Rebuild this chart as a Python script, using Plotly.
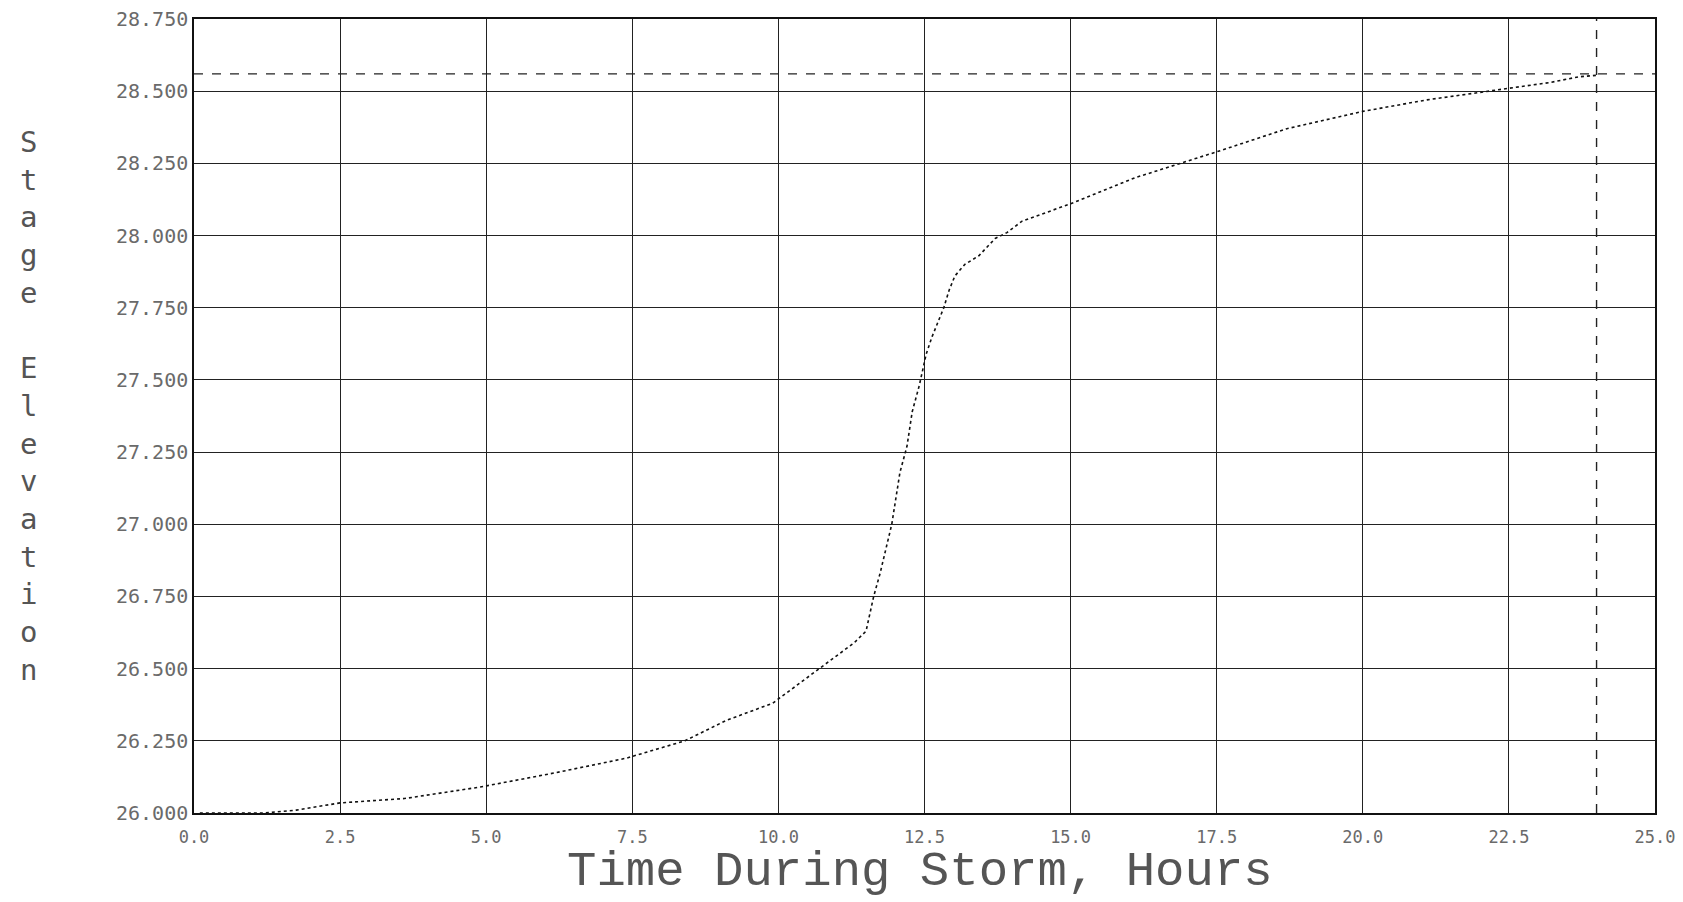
import plotly.graph_objects as go

# ---- data ----
time_h = [0.1, 1.2, 1.75, 2.5, 3.6, 4.9, 6.2, 7.4, 8.4, 9.1, 9.9, 10.7, 10.9, 11.3,
          11.5, 11.63, 11.74, 11.94, 12.08, 12.2, 12.29, 12.41, 12.53, 12.63, 12.75,
          12.83, 12.92, 13.02, 13.19, 13.43, 13.71, 13.91, 14.17, 15.0, 16.1, 16.9,
          17.5, 18.7, 20.0, 21.1, 22.5, 23.2, 23.7, 24.0]
stage = [26.00, 26.00, 26.01, 26.035, 26.05, 26.09, 26.14, 26.19, 26.25, 26.32, 26.38,
         26.50, 26.53, 26.59, 26.63, 26.75, 26.83, 27.00, 27.18, 27.27, 27.39, 27.48,
         27.59, 27.65, 27.71, 27.75, 27.81, 27.86, 27.90, 27.93, 27.99, 28.01, 28.05,
         28.11, 28.20, 28.25, 28.29, 28.37, 28.43, 28.47, 28.51, 28.53, 28.55, 28.555]

peak_stage = 28.56
peak_time = 24.0

x_tickvals = [0.0, 2.5, 5.0, 7.5, 10.0, 12.5, 15.0, 17.5, 20.0, 22.5, 25.0]
x_ticktext = ["0.0", "2.5", "5.0", "7.5", "10.0", "12.5", "15.0", "17.5", "20.0", "22.5", "25.0"]
y_tickvals = [26.0, 26.25, 26.5, 26.75, 27.0, 27.25, 27.5, 27.75, 28.0, 28.25, 28.5, 28.75]
y_ticktext = ["26.000", "26.250", "26.500", "26.750", "27.000", "27.250", "27.500",
              "27.750", "28.000", "28.250", "28.500", "28.750"]

x_title = "Time During Storm, Hours"
y_title = "Stage Elevation"

W, H = 1683, 902
PL, PT, PR, PB = 194, 19, 1655, 813  # plot area in page pixels
pw, ph = PR - PL, PB - PT

fig = go.Figure()

fig.add_trace(go.Scatter(x=[0, 25], y=[peak_stage, peak_stage], mode="lines",
                         line=dict(color="#222", width=1.2, dash="dash"),
                         hoverinfo="skip", showlegend=False))
fig.add_trace(go.Scatter(x=[peak_time, peak_time], y=[26.0, 28.75], mode="lines",
                         line=dict(color="#222", width=1.4, dash="dash"),
                         hoverinfo="skip", showlegend=False))
fig.add_trace(go.Scatter(x=time_h, y=stage, mode="lines",
                         line=dict(color="#111", width=1.6, dash="dot"),
                         showlegend=False))

fig.update_xaxes(range=[0, 25], tickvals=x_tickvals, ticktext=x_ticktext,
                 showgrid=True, gridcolor="#222", gridwidth=1.2,
                 showline=True, linecolor="#111", linewidth=1.5, mirror=True,
                 ticks="", zeroline=False, ticklabelstandoff=8, automargin=False,
                 ticklabeloverflow="allow",
                 tickfont=dict(family="DejaVu Sans Mono", size=17, color="#6a6a6a"))
fig.update_yaxes(range=[26.0, 28.75], tickvals=y_tickvals, ticktext=y_ticktext,
                 showgrid=True, gridcolor="#222", gridwidth=1.2,
                 showline=True, linecolor="#111", linewidth=1.5, mirror=True,
                 ticks="", zeroline=False, automargin=False,
                 ticklabeloverflow="allow",
                 tickfont=dict(family="DejaVu Sans Mono", size=20, color="#6a6a6a"))

stacked = "<br>".join(y_title)
fig.add_annotation(text=stacked, xref="paper", yref="paper",
                   x=(28 - PL) / pw, y=1 - ((138 + 674) / 2 - PT) / ph,
                   xanchor="center", yanchor="middle", showarrow=False,
                   font=dict(family="DejaVu Sans Mono", size=29, color="#555"))
fig.add_annotation(text=x_title, xref="paper", yref="paper",
                   x=(920 - PL) / pw, y=-(872 - PB) / ph,
                   xanchor="center", yanchor="middle", showarrow=False,
                   font=dict(family="Liberation Mono", size=49, color="#555"))

fig.update_layout(width=W, height=H, autosize=False,
                  margin=dict(l=PL, r=W - PR, t=PT, b=H - PB),
                  paper_bgcolor="white", plot_bgcolor="white")

fig.write_html("out.html", config={"displayModeBar": False},
               post_script="document.body.style.margin='0px';")
